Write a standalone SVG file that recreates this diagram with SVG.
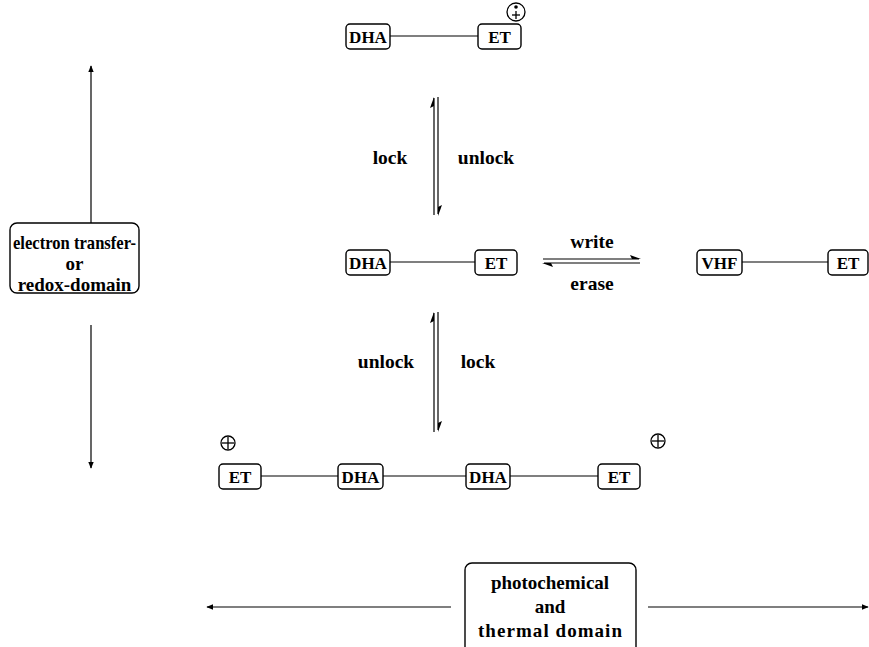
<svg xmlns="http://www.w3.org/2000/svg" width="869" height="647" viewBox="0 0 869 647">
  <style>
    .box { fill: #fff; stroke: #000; stroke-width: 1.4; }
    .ln { stroke: #000; stroke-width: 1.2; fill: none; }
    .node { font-family: "Liberation Serif", "Times New Roman", serif; font-weight: bold; font-size: 17px; text-anchor: middle; fill: #000; }
    .lbl { font-family: "Liberation Serif", "Times New Roman", serif; font-weight: bold; font-size: 19.5px; text-anchor: middle; fill: #000; }
    .dom { font-family: "Liberation Serif", "Times New Roman", serif; font-weight: bold; font-size: 19px; text-anchor: middle; fill: #000; }
    .sym { stroke: #000; stroke-width: 1.3; fill: none; }
  </style>
  <defs>
    <marker id="head" viewBox="0 0 10 10" refX="9" refY="5" markerWidth="7" markerHeight="7" orient="auto" markerUnits="userSpaceOnUse">
      <path d="M0,1 L10,5 L0,9 Z" fill="#000"/>
    </marker>
  </defs>
  <rect width="869" height="647" fill="#fff"/>

  <!-- connectors -->
  <g id="connectors">
    <!-- bonds between units -->
    <line class="ln" x1="390" y1="36" x2="478" y2="36"/>
    <line class="ln" x1="390" y1="262" x2="475" y2="262"/>
    <line class="ln" x1="742" y1="262" x2="828" y2="262"/>
    <line class="ln" x1="261" y1="476" x2="338" y2="476"/>
    <line class="ln" x1="383" y1="476" x2="466" y2="476"/>
    <line class="ln" x1="510" y1="476" x2="598" y2="476"/>

    <!-- upper lock/unlock equilibrium -->
    <path class="ln" d="M434,215 L434,98"/>
    <path d="M434,97 L430,108 L434,106 Z" fill="#000"/>
    <path class="ln" d="M438,97 L438,214"/>
    <path d="M438,216 L442,205 L438,207 Z" fill="#000"/>

    <!-- lower unlock/lock equilibrium -->
    <path class="ln" d="M434,432 L434,313"/>
    <path d="M434,312 L430,323 L434,321 Z" fill="#000"/>
    <path class="ln" d="M438,312 L438,430"/>
    <path d="M438,432 L442,421 L438,423 Z" fill="#000"/>

    <!-- write/erase equilibrium -->
    <path class="ln" d="M543,259 L639,259"/>
    <path d="M641,259 L630,255 L632,259 Z" fill="#000"/>
    <path class="ln" d="M544,263 L640,263"/>
    <path d="M542,263 L553,267 L551,263 Z" fill="#000"/>

    <!-- domain axes -->
    <line class="ln" x1="91" y1="224" x2="91" y2="66" marker-end="url(#head)"/>
    <line class="ln" x1="91" y1="325" x2="91" y2="468" marker-end="url(#head)"/>
    <line class="ln" x1="451" y1="607" x2="207" y2="607" marker-end="url(#head)"/>
    <line class="ln" x1="648" y1="607" x2="868" y2="607" marker-end="url(#head)"/>
  </g>

  <!-- top row: radical cation -->
  <g id="top-dha"><rect class="box" x="346" y="24" width="44" height="25" rx="4"/><text class="node" x="368" y="42.5">DHA</text></g>
  <g id="top-et"><rect class="box" x="478" y="24" width="43" height="25" rx="4"/><text class="node" x="499.5" y="42.5">ET</text></g>
  <g id="top-charge">
    <circle class="sym" cx="516" cy="12" r="9"/>
    <circle cx="516" cy="7" r="1.8" fill="#000"/>
    <line class="sym" x1="516" y1="11" x2="516" y2="19"/>
    <line class="sym" x1="512" y1="15" x2="520" y2="15"/>
  </g>

  <!-- middle row -->
  <g id="mid-dha"><rect class="box" x="346" y="250" width="44" height="25" rx="4"/><text class="node" x="368" y="268.5">DHA</text></g>
  <g id="mid-et"><rect class="box" x="475" y="250" width="42" height="25" rx="4"/><text class="node" x="496" y="268.5">ET</text></g>
  <g id="vhf"><rect class="box" x="697" y="250" width="45" height="25" rx="4"/><text class="node" x="719.5" y="268.5">VHF</text></g>
  <g id="vhf-et"><rect class="box" x="828" y="250" width="40" height="25" rx="4"/><text class="node" x="848" y="268.5">ET</text></g>

  <!-- bottom row: dication -->
  <g id="bot-et1"><rect class="box" x="219" y="464" width="42" height="25" rx="4"/><text class="node" x="240" y="482.5">ET</text></g>
  <g id="bot-dha1"><rect class="box" x="338" y="464" width="45" height="25" rx="4"/><text class="node" x="360.5" y="482.5">DHA</text></g>
  <g id="bot-dha2"><rect class="box" x="466" y="464" width="44" height="25" rx="4"/><text class="node" x="488" y="482.5">DHA</text></g>
  <g id="bot-et2"><rect class="box" x="598" y="464" width="42" height="25" rx="4"/><text class="node" x="619" y="482.5">ET</text></g>
  <g id="charge-left">
    <circle class="sym" cx="228" cy="443" r="7"/>
    <line class="sym" x1="228" y1="437" x2="228" y2="449"/>
    <line class="sym" x1="222" y1="443" x2="234" y2="443"/>
  </g>
  <g id="charge-right">
    <circle class="sym" cx="658" cy="441" r="7"/>
    <line class="sym" x1="658" y1="435" x2="658" y2="447"/>
    <line class="sym" x1="652" y1="441" x2="664" y2="441"/>
  </g>

  <!-- arrow labels -->
  <g id="labels">
    <text class="lbl" x="390" y="164">lock</text>
    <text class="lbl" x="486" y="164">unlock</text>
    <text class="lbl" x="592" y="248">write</text>
    <text class="lbl" x="592" y="290">erase</text>
    <text class="lbl" x="386" y="368">unlock</text>
    <text class="lbl" x="478" y="368">lock</text>
  </g>

  <!-- domain boxes -->
  <g id="redox-domain">
    <rect class="box" x="10" y="223" width="129" height="70" rx="7"/>
    <text class="dom" x="74.5" y="249" textLength="123" lengthAdjust="spacingAndGlyphs">electron transfer-</text>
    <text class="dom" x="74.5" y="270">or</text>
    <text class="dom" x="74.5" y="291">redox-domain</text>
  </g>
  <g id="photo-domain">
    <rect class="box" x="465" y="563" width="171" height="100" rx="7"/>
    <text class="dom" x="550" y="589">photochemical</text>
    <text class="dom" x="550" y="613">and</text>
    <text class="dom" x="550" y="637" textLength="144" lengthAdjust="spacing">thermal domain</text>
  </g>
</svg>
